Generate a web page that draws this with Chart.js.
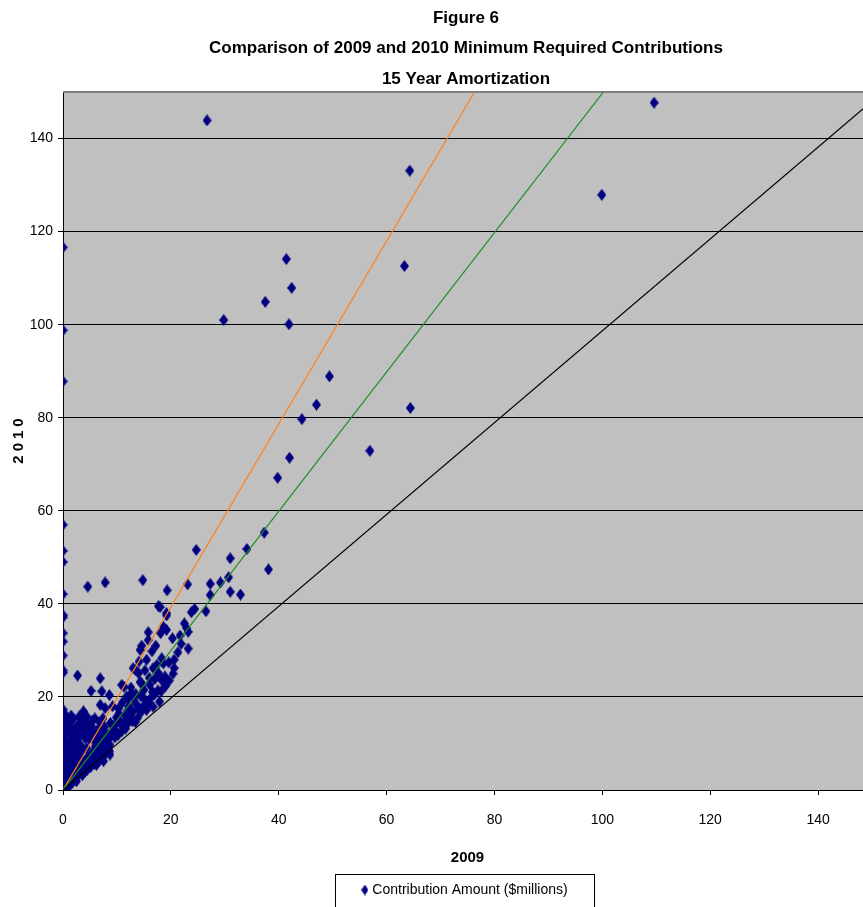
<!DOCTYPE html>
<html>
<head>
<meta charset="utf-8">
<title>Figure 6</title>
<script src="https://cdn.jsdelivr.net/npm/chart.js@4.4.1/dist/chart.umd.min.js"></script>
<style>
    html, body { margin: 0; padding: 0; background: #fff; overflow: hidden; }
    canvas { display: block; }
</style>
</head>
<body>
<canvas id="contribChart" width="932" height="907"></canvas>
<script>
// [2009, 2010] minimum required contributions, $ millions
const zeroIn2009 = [
    [0, 116.6], [0, 98.8], [0, 87.8], [0, 57.0], [0, 51.4], [0, 49.0], [0, 42.1], [0, 37.6],
    [0, 37.1], [0, 33.7], [0, 31.9], [0, 28.9], [0, 25.7], [0, 25.2], [0, 17.3], [0, 16.1],
    [0, 14.9], [0, 13.8], [0, 12.7], [0, 11.6], [0, 10.9], [0, 10.2], [0, 9.5], [0, 8.8],
    [0, 8.1], [0, 7.5], [0, 6.9], [0, 6.2], [0, 5.6], [0, 4.9], [0, 4.3], [0, 3.7],
    [0, 3.1], [0, 2.5], [0, 1.9], [0, 1.3], [0, 0.7], [0, 0.2]
];

const smallPlans = [
    [2.7, 24.6], [5.2, 21.3], [7.2, 21.2], [6.9, 24.0], [8.6, 20.4], [10.9, 22.6], [11.3, 22.2],
    [14.3, 23.2], [12.7, 20.8], [11.8, 20.1], [13.5, 20.6], [14.4, 20.2], [15.2, 19.4], [18.3, 23.6],
    [18.9, 24.4], [16.1, 22.6], [14.6, 22.9], [13.7, 18.3], [14.6, 16.9], [12.7, 15.1], [10.9, 12.6],
    [3.8, 16.9], [3.5, 15.1], [3.5, 13.3], [5.3, 13.7], [6.2, 11.5], [8.7, 9.7], [7.8, 8.6],
    [6.9, 6.9], [10.2, 11.8], [11.6, 13.2], [12.9, 14.8], [13.0, 16.9], [11.5, 16.1],
    [10.6, 14.7], [9.6, 14.0], [9.0, 12.6], [8.1, 11.9], [7.2, 10.8], [1.3, 14.7], [1.4, 12.6],
    [2.2, 11.1], [1.3, 9.7], [3.2, 9.7], [4.4, 9.0], [5.6, 8.3], [3.0, 7.6], [5.0, 6.2],
    [6.2, 5.4], [7.5, 6.2], [8.4, 8.6], [8.7, 7.6], [1.3, 5.5], [3.2, 4.7], [4.4, 4.2],
    [2.1, 3.3], [3.6, 3.2], [2.5, 1.9], [6.9, 18.3], [7.8, 17.6], [5.9, 15.4], [6.2, 12.6],
    [5.0, 13.3], [4.1, 11.1], [9.2, 18.0], [10.3, 17.5], [11.0, 18.8], [12.2, 18.0], [9.9, 15.6],
    [8.8, 14.4], [7.7, 13.5], [7.0, 12.2], [6.6, 9.8], [5.8, 10.6], [4.7, 7.2], [5.4, 5.8],
    [6.0, 7.8], [7.2, 7.3], [8.0, 9.0], [9.6, 11.3], [11.2, 13.7],
    [12.0, 14.3], [13.9, 15.6], [15.5, 17.2], [15.9, 18.5], [16.3, 19.8], [14.9, 18.0],
    [17.0, 20.6], [17.6, 21.4], [0.4, 0.4], [0.8, 1.2], [1.2, 0.9], [0.6, 2.2], [1.5, 2.0],
    [0.5, 3.5], [1.1, 3.0], [1.8, 2.9], [2.6, 2.8], [0.9, 4.6], [1.6, 4.2], [2.4, 4.4],
    [0.6, 5.9], [1.4, 6.4], [2.2, 5.6], [3.0, 5.9], [3.9, 4.8], [4.3, 5.1], [0.8, 7.6],
    [1.7, 7.9], [2.9, 7.0], [3.6, 6.6], [4.8, 5.6], [5.6, 6.5], [0.5, 8.9], [1.2, 10.6],
    [1.9, 9.2], [2.3, 12.2], [1.0, 13.5], [1.7, 13.1], [0.6, 15.8], [1.9, 15.3], [2.6, 13.8],
    [2.9, 11.4], [4.6, 12.2], [4.0, 13.9], [5.5, 11.8], [6.5, 8.0], [7.9, 8.2],
    [6.4, 7.0], [0.3, 11.8], [0.7, 12.9], [0.4, 6.8], [1.0, 8.3], [0.3, 4.1],
    [0.9, 2.5], [1.6, 1.4], [2.0, 2.4], [3.1, 3.9], [4.0, 3.9], [5.1, 4.9], [5.8, 5.6],
    [6.6, 6.2], [7.6, 7.3], [8.6, 8.3],
    [0.3, 13.9], [0.5, 15.0], [0.2, 16.4], [1.5, 16.0], [3.0, 15.8],
    [4.4, 15.8], [7.4, 15.4],
    [6.8, 14.6], [5.4, 14.9], [4.6, 14.0], [3.3, 12.4], [3.9, 11.9], [4.9, 10.9], [6.0, 9.4],
    [7.1, 9.3], [7.9, 10.3], [8.6, 11.2], [7.5, 12.6], [6.8, 13.3], [9.9, 12.6], [10.9, 13.9],
    [11.6, 15.0], [12.5, 16.1], [13.4, 14.6], [2.0, 10.2], [2.7, 9.0], [3.7, 8.4], [2.4, 8.2],
    [1.6, 11.6], [3.3, 14.4], [0.4, 9.8], [1.9, 6.9], [2.7, 6.2], [3.4, 5.4], [4.6, 6.4],
    [5.2, 7.3], [1.1, 5.0], [2.0, 4.9], [2.9, 3.6], [1.3, 3.8], [0.4, 1.5], [1.0, 1.8],
    [2.2, 2.1], [15.0, 21.5], [16.6, 21.1], [13.0, 19.5], [12.0, 19.8], [10.4, 16.4], [11.9, 17.0],
    [14.0, 17.4], [16.7, 17.9], [17.9, 19.0], [18.2, 21.2], [19.0, 22.3]
];

const midPlans = [
    [17.7, 39.5], [18.0, 39.3], [19.2, 37.5], [19.2, 38.0], [24.4, 38.9], [23.8, 38.2], [26.5, 38.4],
    [22.5, 35.8], [22.9, 34.8], [18.6, 35.1], [19.2, 34.4], [18.1, 33.7], [15.8, 33.9], [23.2, 34.0],
    [21.9, 31.4], [23.2, 30.4], [15.8, 32.2], [14.6, 31.0], [14.3, 30.1], [14.1, 27.6], [18.3, 28.3],
    [18.6, 27.2], [17.4, 26.9], [16.7, 26.2], [20.6, 26.2], [17.7, 25.1], [14.0, 25.1], [13.0, 26.2],
    [13.4, 25.8], [12.6, 22.0], [19.7, 23.5], [20.4, 25.0], [19.6, 27.4], [21.3, 29.6], [20.6, 28.0],
    [21.7, 33.2], [20.3, 32.6], [16.5, 29.8], [17.2, 31.0], [15.5, 28.0], [16.0, 24.1], [15.2, 25.7],
    [17.0, 23.8]
];

const largePlans = [
    [26.7, 143.9], [109.6, 147.7], [64.3, 133.1], [99.9, 127.9], [63.3, 112.6], [41.4, 114.1],
    [42.4, 107.9], [37.5, 104.9], [29.8, 101.0], [41.9, 100.1], [49.4, 88.9], [47.0, 82.8],
    [64.4, 82.1], [44.3, 79.7], [42.0, 71.4], [39.8, 67.1], [56.9, 72.9], [37.3, 55.3],
    [34.1, 51.8], [24.7, 51.6], [31.0, 49.8], [38.1, 47.4], [30.7, 45.7], [27.3, 44.3],
    [23.1, 44.2], [29.2, 44.6], [31.0, 42.6], [32.9, 42.0], [27.3, 41.9], [14.8, 45.1],
    [7.8, 44.6], [4.6, 43.7], [19.3, 42.9]
];

// reference lines through the origin
const equalLine = [[0, 0], [150, 148]];
const greenLine = [[0, 0], [100.2, 150]];
const orangeLine = [[0, 0], [76.3, 150]];

const axisTicks = [0, 20, 40, 60, 80, 100, 120, 140];

const sans = '"Liberation Sans", Arial, sans-serif';

function diamond(w, h) {
    const c = document.createElement('canvas');
    c.width = w;
    c.height = h;
    const g = c.getContext('2d');
    g.fillStyle = '#000080';
    g.beginPath();
    g.moveTo(w / 2, 0);
    g.lineTo(w, h / 2);
    g.lineTo(w / 2, h);
    g.lineTo(0, h / 2);
    g.closePath();
    g.fill();
    return c;
}

// grey plot area, its top edge, the spaced y title and the legend frame
const frame = {
    id: 'frame',
    beforeDraw(chart) {
        const {ctx, chartArea: a} = chart;
        ctx.save();
        ctx.fillStyle = '#C0C0C0';
        ctx.fillRect(a.left, a.top, a.right - a.left, a.bottom - a.top);
        ctx.restore();
    },
    beforeDatasetsDraw(chart) {
        const {ctx, chartArea: a} = chart;
        ctx.save();
        ctx.strokeStyle = '#808080';
        ctx.lineWidth = 2;
        ctx.beginPath();
        ctx.moveTo(a.left, a.top);
        ctx.lineTo(a.right, a.top);
        ctx.stroke();
        ctx.restore();
    },
    afterDraw(chart) {
        const {ctx, chartArea: a, legend} = chart;
        ctx.save();
        ctx.translate(19, (a.top + a.bottom) / 2);
        ctx.rotate(-Math.PI / 2);
        ctx.font = 'bold 15px ' + sans;
        ctx.letterSpacing = '4px';
        ctx.fillStyle = '#000';
        ctx.textAlign = 'center';
        ctx.textBaseline = 'middle';
        ctx.fillText('2010', 2, 0);
        ctx.restore();

        const hb = legend.legendHitBoxes[0];
        if (hb) {
            ctx.save();
            ctx.strokeStyle = '#000';
            ctx.lineWidth = 1;
            const x0 = Math.round(hb.left - 29) + 0.5;
            const x1 = Math.round(hb.left + hb.width + 26) + 0.5;
            const y0 = Math.round(legend.top - 1) + 0.5;
            ctx.strokeRect(x0, y0, x1 - x0, 60);
            ctx.restore();
        }
    }
};

const refLine = (data, color) => ({
    type: 'line',
    data,
    borderColor: color,
    borderWidth: 1.2,
    pointRadius: 0,
    fill: false,
    order: 0
});

new Chart(document.getElementById('contribChart'), {
    type: 'scatter',
    data: {
        datasets: [
            {
                label: 'Contribution Amount ($millions)',
                data: [...zeroIn2009, ...smallPlans, ...midPlans, ...largePlans],
                pointStyle: diamond(9, 12),
                backgroundColor: '#000080',
                borderColor: '#000080',
                order: 1
            },
            refLine(equalLine, '#000000'),
            refLine(greenLine, '#1E8C1E'),
            refLine(orangeLine, '#FF7F1E')
        ]
    },
    options: {
        responsive: false,
        animation: false,
        devicePixelRatio: 1,
        layout: { padding: 0 },
        plugins: {
            title: {
                display: true,
                text: ['Figure 6', 'Comparison of 2009 and 2010 Minimum Required Contributions', '15 Year Amortization'],
                color: '#000',
                font: { family: sans, size: 17, weight: 'bold', lineHeight: 1.79 },
                padding: { top: 3, bottom: -2.3 }
            },
            legend: {
                position: 'bottom',
                labels: {
                    color: '#000',
                    font: { family: sans, size: 14 },
                    padding: 8,
                    boxWidth: 1,
                    usePointStyle: true,
                    pointStyle: diamond(7, 11),
                    filter: item => item.datasetIndex === 0
                }
            },
            tooltip: { enabled: false }
        },
        scales: {
            x: {
                type: 'linear',
                min: 0,
                max: 150,
                afterFit: s => { s.height = 85; },
                afterBuildTicks: s => { s.ticks = axisTicks.map(v => ({ value: v })); },
                border: { color: '#000', width: 1 },
                grid: { drawOnChartArea: false, tickLength: 5, tickColor: '#000' },
                ticks: { color: '#000', padding: 17, font: { family: sans, size: 14 } },
                title: {
                    display: true,
                    text: '2009',
                    color: '#000',
                    font: { family: sans, size: 15, weight: 'bold' },
                    padding: { top: 0, bottom: 8 }
                }
            },
            y: {
                type: 'linear',
                min: 0,
                max: 150,
                afterFit: s => { s.width = 63; },
                afterBuildTicks: s => { s.ticks = axisTicks.map(v => ({ value: v })); },
                border: { color: '#000', width: 1 },
                grid: { color: '#000', tickLength: 5, tickColor: '#000' },
                ticks: { color: '#000', padding: 5, font: { family: sans, size: 14 } }
            },
            // empty right-hand margin so the titles centre over the plot
            yRight: {
                position: 'right',
                afterFit: s => { s.width = 60; },
                grid: { display: false },
                border: { display: false },
                ticks: { display: false }
            }
        }
    },
    plugins: [frame]
});
</script>
</body>
</html>
